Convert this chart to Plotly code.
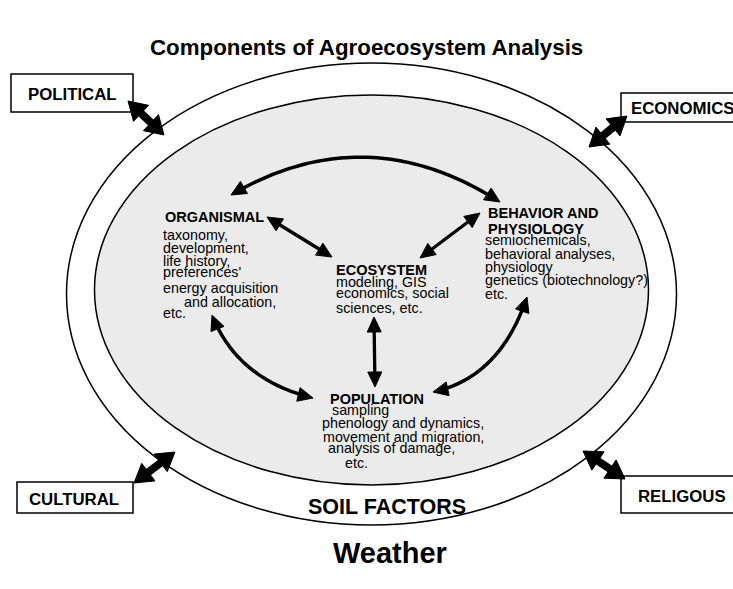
import numpy as np
import plotly.graph_objects as go

W, H = 733, 589
FONT = "Liberation Sans, Arial, sans-serif"

# ---------------- diagram content ----------------
TITLE = "Components of Agroecosystem Analysis"
FOOTER = "Weather"
RING_LABEL = "SOIL FACTORS"

# ellipses (cx, cy, rx, ry) in page pixels
outer_ellipse = (371.5, 294, 305, 231)
inner_ellipse = (371.5, 290, 277, 195)

box_labels = ["POLITICAL", "ECONOMICS", "CULTURAL", "RELIGOUS"]
box_rects = [(11, 74, 133, 112), (621, 93, 745, 122), (17, 482, 133, 513), (621, 476, 745, 513)]
box_text_pos = [(72, 94, "center"), (631, 108, "left"), (73.5, 499, "center"), (682, 496, "center")]
box_arrows = [((128, 101), (164, 135)), ((627, 116), (589, 147)),
              ((175, 452), (134, 483)), ((583, 451), (625, 479))]

# text lines: (text, x_left, baseline, bold)
org_lines = [("ORGANISMAL", 165, 222, True), ("taxonomy,", 163, 240, False),
             ("development,", 163, 252.7, False), ("life history,", 163, 266, False),
             ("preferences'", 163, 277, False), ("energy acquisition", 163, 293, False),
             ("and allocation,", 184, 306.7, False), ("etc.", 163, 318, False)]
beh_lines = [("BEHAVIOR AND", 488, 218.3, True), ("PHYSIOLOGY", 488, 234, True),
             ("semiochemicals,", 485, 245, False), ("behavioral analyses,", 485, 259.3, False),
             ("physiology", 485, 271.7, False), ("genetics (biotechnology?)", 485, 285, False),
             ("etc.", 485, 299.3, False)]
eco_lines = [("ECOSYSTEM", 336, 275, True), ("modeling, GIS", 336, 286.7, False),
             ("economics, social", 336, 298.3, False), ("sciences, etc.", 336, 312.7, False)]
pop_lines = [("POPULATION", 330, 404, True), ("sampling", 331.7, 415, False),
             ("phenology and dynamics,", 321.7, 428.3, False),
             ("movement and migration,", 323.3, 441.7, False),
             ("analysis of damage,", 328.3, 453.3, False), ("etc.", 345, 468.3, False)]

# straight inner arrows (tip1, tip2)
inner_straight = [((267, 217), (332, 257)), ((420, 258), (480, 213)), ((374, 317), (375, 387))]
# curved inner arrows (tip1, control, tip2) quadratic bezier
inner_curved = [((231, 195), (366, 116), (500, 202)),
                ((212, 315), (237.5, 379.5), (313, 398)),
                ((527, 297), (500, 377.5), (433, 392))]

# ---------------- helpers ----------------
shapes = []
annotations = []


def tri(tip, d, L, Wd):
    d = np.asarray(d, float)
    d = d / np.linalg.norm(d)
    n = np.array([-d[1], d[0]])
    tip = np.asarray(tip, float)
    base = tip - L * d
    p1 = base + n * Wd / 2
    p2 = base - n * Wd / 2
    path = f"M {tip[0]},{tip[1]} L {p1[0]},{p1[1]} L {p2[0]},{p2[1]} Z"
    shapes.append(dict(type="path", path=path, xref="x", yref="y",
                       fillcolor="black", line=dict(color="black", width=1)))


def polyline(pts, width):
    path = "M " + " L ".join(f"{x:.2f},{y:.2f}" for x, y in pts)
    shapes.append(dict(type="path", path=path, xref="x", yref="y",
                       line=dict(color="black", width=width)))


def straight_arrow(a, b, L, Wd, lw):
    a = np.asarray(a, float); b = np.asarray(b, float)
    d = (b - a) / np.linalg.norm(b - a)
    polyline([a + d * L * 0.7, b - d * L * 0.7], lw)
    tri(b, d, L, Wd)
    tri(a, -d, L, Wd)


def curved_arrow(p0, c, p2, L, Wd, lw):
    p0 = np.asarray(p0, float); c = np.asarray(c, float); p2 = np.asarray(p2, float)
    t = np.linspace(0, 1, 60)[:, None]
    pts = (1 - t) ** 2 * p0 + 2 * (1 - t) * t * c + t ** 2 * p2
    seg = np.cumsum(np.r_[0, np.linalg.norm(np.diff(pts, axis=0), axis=1)])
    keep = (seg > L * 0.7) & (seg < seg[-1] - L * 0.7)
    polyline(pts[keep], lw)
    tri(p0, p0 - c, L, Wd)
    tri(p2, p2 - c, L, Wd)


def text(s, x, y, size, bold=False, xanchor="left"):
    annotations.append(dict(text=f"<b>{s}</b>" if bold else s, x=x, y=y, xref="x", yref="y",
                            xanchor=xanchor, yanchor="middle", showarrow=False,
                            borderpad=0, borderwidth=0,
                            font=dict(family=FONT, size=size, color="black")))


# ---------------- build ----------------
for (cx, cy, rx, ry), fill in [(outer_ellipse, "white"), (inner_ellipse, "#ebebeb")]:
    shapes.append(dict(type="circle", xref="x", yref="y", x0=cx - rx, x1=cx + rx,
                       y0=cy - ry, y1=cy + ry, fillcolor=fill,
                       line=dict(color="black", width=1.5)))

for (x0, y0, x1, y1) in box_rects:
    shapes.append(dict(type="rect", xref="x", yref="y", x0=x0, y0=y0, x1=x1, y1=y1,
                       fillcolor="white", line=dict(color="black", width=1.5)))

for a, b in box_arrows:
    straight_arrow(a, b, 18, 22, 8)

for a, b in inner_straight:
    straight_arrow(a, b, 15, 14, 3.3)

for p0, c, p2 in inner_curved:
    curved_arrow(p0, c, p2, 15, 14, 3.5)

for lab, (x, y, anc) in zip(box_labels, box_text_pos):
    text(lab, x, y, 16.8, True, anc)

for block in (org_lines, beh_lines, eco_lines, pop_lines):
    for s, x, base, b in block:
        size = 14.5 if b else 14.3
        text(s, x, base - 0.35 * size, size, b)

text(TITLE, 366, 47, 22.3, True, "center")
text(RING_LABEL, 387, 507, 21.5, True, "center")
text(FOOTER, 390, 553, 29, True, "center")

fig = go.Figure()
fig.update_layout(
    width=W, height=H, margin=dict(l=0, r=0, t=0, b=0),
    paper_bgcolor="white", plot_bgcolor="white",
    xaxis=dict(range=[0, W], visible=False, fixedrange=True),
    yaxis=dict(range=[H, 0], visible=False, fixedrange=True),
    shapes=shapes, annotations=annotations, showlegend=False,
)
fig.write_html("out.html", config={"displayModeBar": False},
               post_script="document.body.style.margin='0';")
